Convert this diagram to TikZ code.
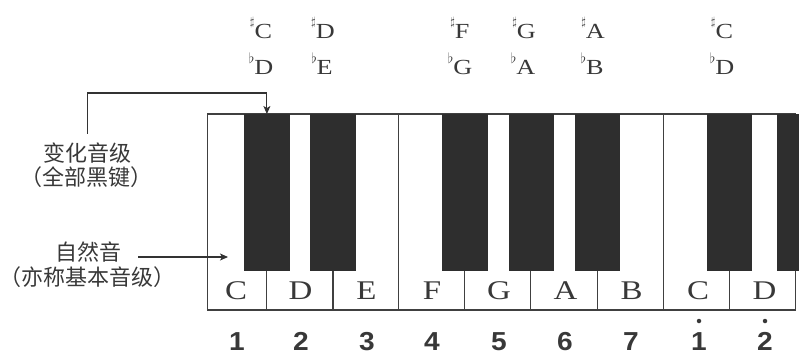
\documentclass[tikz,border=0pt]{standalone}
\usepackage{fontspec}
\setmainfont{Liberation Serif}
\newfontfamily\keyfont{Liberation Serif}[FakeStretch=1.22]
\newfontfamily\cjk{Noto Sans CJK SC}
\newfontfamily\numfont{Liberation Sans}[FakeStretch=1.08]
\usepackage{tikz}
\usetikzlibrary{arrows,arrows.meta,positioning}

\newcommand{\upsharp}{\raisebox{12.5pt}{\fontsize{13}{13}\selectfont$\sharp$}}
\newcommand{\upflat}{\raisebox{11pt}{\fontsize{14.5}{14.5}\selectfont$\flat$}}

\begin{document}
\begin{tikzpicture}[x=1pt,y=-1pt,>={Stealth[length=8pt,width=7pt,inset=2pt]}]
  \tikzset{WhiteKey/.style={draw=black!75,line width=1.3pt,fill=white,minimum height=196pt,inner sep=0pt,outer sep=0pt},
           BlackKey/.style={draw=black!82,fill=black!82,line width=0.5pt,minimum width=44.5pt,minimum height=156pt,inner sep=0pt,outer sep=0pt},
           KeyName/.style={font=\keyfont\fontsize{27}{27}\selectfont,text=black!78,anchor=base,inner sep=1pt},
           Accid/.style={font=\keyfont\fontsize{21.5}{21.5}\selectfont,text=black!78,anchor=base,inner sep=1pt},
           Degree/.style={font=\numfont\bfseries\fontsize{26}{26}\selectfont,text=black!78,anchor=base,inner sep=0pt},
           HiDot/.style={circle,fill=black!78,inner sep=0pt,minimum size=4.5pt},
           Note/.style={font=\cjk\fontsize{22}{22}\selectfont,text=black!78,inner sep=0pt},
           Lead/.style={->,draw=black!80,line width=1.1pt}}
  \useasboundingbox (0,0) rectangle (799,354);
  \clip (0,0) rectangle (799,354);

  % white keys
  \node[WhiteKey,minimum width=59.3pt] (C1) at (237.15,212) {};
  \node[WhiteKey,minimum width=66.1pt] (D1) at (299.85,212) {};
  \node[WhiteKey,minimum width=65.7pt] (E1) at (365.75,212) {};
  \node[WhiteKey,minimum width=66.1pt] (F1) at (431.65,212) {};
  \node[WhiteKey,minimum width=66.1pt] (G1) at (497.75,212) {};
  \node[WhiteKey,minimum width=66.4pt] (A1) at (564.0,212) {};
  \node[WhiteKey,minimum width=66.1pt] (B1) at (630.25,212) {};
  \node[WhiteKey,minimum width=66.0pt] (C2) at (696.3,212) {};
  \node[WhiteKey,minimum width=66.2pt] (D2) at (762.4,212) {};

  % black keys
  \node[BlackKey] (Cs1) at (266.9,192) {};
  \node[BlackKey] (Ds1) at (332.5,192) {};
  \node[BlackKey] (Fs1) at (464.6,192) {};
  \node[BlackKey] (Gs1) at (531.0,192) {};
  \node[BlackKey] (As1) at (597.0,192) {};
  \node[BlackKey] (Cs2) at (729.3,192) {};
  \node[BlackKey] (Ds2) at (799.0,192) {};

  % names of the white keys
  \node[KeyName] (nC1) at (236,299) {C};
  \node[KeyName] (nD1) at (300.5,299) {D};
  \node[KeyName] (nE1) at (366.5,299) {E};
  \node[KeyName] (nF1) at (432,299) {F};
  \node[KeyName] (nG1) at (499,299) {G};
  \node[KeyName] (nA1) at (565.5,299) {A};
  \node[KeyName] (nB1) at (631.5,299) {B};
  \node[KeyName] (nC2) at (698,299) {C};
  \node[KeyName] (nD2) at (764.5,299) {D};

  % sharps and flats
  \node[Accid] (sC1) at (261,38) {\upsharp C};
  \node[Accid] (fD1) at (261,74) {\upflat D};
  \node[Accid] (sD1) at (323,38) {\upsharp D};
  \node[Accid] (fE1) at (322,74) {\upflat E};
  \node[Accid] (sF1) at (460,38) {\upsharp F};
  \node[Accid] (fG1) at (460,74) {\upflat G};
  \node[Accid] (sG1) at (524,38) {\upsharp G};
  \node[Accid] (fA1) at (523,74) {\upflat A};
  \node[Accid] (sA1) at (593,38) {\upsharp A};
  \node[Accid] (fB1) at (592,74) {\upflat B};
  \node[Accid] (sC2) at (722,38) {\upsharp C};
  \node[Accid] (fD2) at (722,74) {\upflat D};

  % scale degrees
  \node[Degree] (d1) at (237,350) {1};
  \node[Degree] (d2) at (301,350) {2};
  \node[Degree] (d3) at (367,350) {3};
  \node[Degree] (d4) at (432,350) {4};
  \node[Degree] (d5) at (499,350) {5};
  \node[Degree] (d6) at (565,350) {6};
  \node[Degree] (d7) at (631,350) {7};
  \node[Degree] (d8) at (699,350) {1};
  \node[Degree] (d9) at (765,350) {2};
  \node[HiDot] (hd8) at (699,321) {};
  \node[HiDot] (hd9) at (765,321) {};

  % labels on the left
  \node[Note] (chg1) at (87.5,153) {变化音级};
  \node[Note] (chg2) at (86.5,177) {（全部黑键）};
  \node[Note] (nat1) at (88,252) {自然音};
  \node[Note] (nat2) at (87,277) {（亦称基本音级）};

  \coordinate (bend) at (266.9,93);
  \coordinate (tip) at (228,257);
  \draw[Lead,shorten <=9pt] (chg1.north) |- (bend) -- (Cs1.north);
  \draw[Lead,shorten <=17pt] (nat1.east |- tip) -- (tip);
\end{tikzpicture}
\end{document}
